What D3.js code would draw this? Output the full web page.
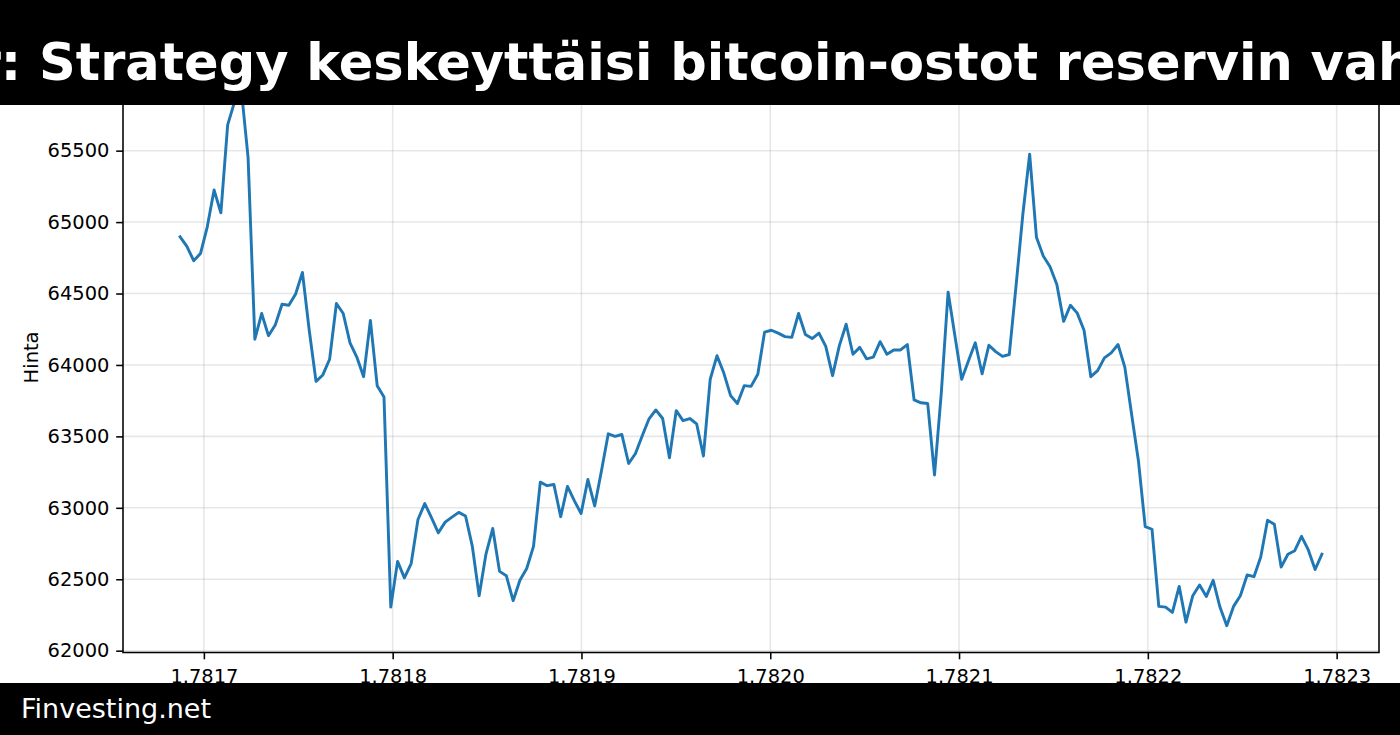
<!DOCTYPE html>
<html>
<head>
<meta charset="utf-8">
<script src="https://cdn.jsdelivr.net/npm/d3@7"></script>
<style>
  html, body { margin: 0; padding: 0; background: #fff; }
  svg { display: block; }
  text { font-family: "DejaVu Sans", sans-serif; }
</style>
</head>
<body>
<svg id="chart" width="1400" height="735"></svg>
<script>
// ---- data ----
const titleText = "Michael Saylor: Strategy keskeyttäisi bitcoin-ostot reservin vahvistamiseksi";
const footerText = "Finvesting.net";
const yLabel = "Hinta";
const startTime = 1781687400;   // unix seconds of first sample
const stepSeconds = 3600;       // hourly samples
const prices = [
  64897, 64830, 64730, 64780, 64967, 65225, 65065, 65680, 65840, 65930,
  65455, 64180, 64360, 64205, 64280, 64425, 64418, 64497, 64648, 64243,
  63885, 63930, 64040, 64430, 64360, 64155, 64055, 63918, 64312, 63855,
  63775,
  62305, 62625, 62510, 62610, 62918, 63030, 62930, 62825, 62900, 62935,
  62968, 62943, 62730, 62385, 62675, 62855, 62555, 62525, 62350, 62493,
  62575, 62730, 63180, 63155, 63163, 62938, 63150, 63050, 62960, 63198,
  63013, 63260,
  63518, 63500, 63513, 63310, 63380, 63505, 63623, 63685, 63625, 63350,
  63680, 63610, 63625, 63588, 63363, 63900, 64065, 63943, 63785, 63730,
  63855, 63850, 63935, 64230, 64243, 64223, 64198, 64193, 64360, 64213,
  64185, 64223, 64130, 63925, 64135,
  64285, 64075, 64123, 64043, 64055, 64163, 64075, 64105, 64105, 64143,
  63755, 63735, 63730, 63230, 63805, 64510, 64205, 63900, 64030, 64155,
  63938, 64138, 64093, 64060, 64073, 64555, 65055, 65475, 64893, 64763,
  64688, 64563, 64305, 64418,
  64363, 64243, 63918, 63960, 64050, 64085, 64143, 63985, 63655, 63330,
  62868, 62850, 62310, 62305, 62268, 62450, 62200, 62385, 62460, 62380,
  62493, 62305, 62175, 62310, 62385, 62530, 62518, 62655, 62913, 62885,
  62585, 62675, 62700, 62800, 62705, 62568, 62675
];
const xTickValues = [1781700000, 1781800000, 1781900000, 1782000000, 1782100000, 1782200000, 1782300000];
const yTickValues = [62000, 62500, 63000, 63500, 64000, 64500, 65000, 65500, 66000];

const series = prices.map((p, i) => ({ t: startTime + i * stepSeconds, v: p }));

// ---- layout (matplotlib figure 10x5.25 in @140dpi) ----
const W = 1400, H = 735;
const pt = 140 / 72;
const plot = { left: 123, right: 1379, top: 62.4, bottom: 652.5 };

const svg = d3.select("#chart");
svg.append("rect").attr("width", W).attr("height", H).attr("fill", "#fff");

const tExt = d3.extent(series, d => d.t);
const vExt = d3.extent(series, d => d.v);
const tPad = (tExt[1] - tExt[0]) * 0.05;
const vPad = (vExt[1] - vExt[0]) * 0.05;

const x = d3.scaleLinear().domain([tExt[0] - tPad, tExt[1] + tPad]).range([plot.left, plot.right]);
const y = d3.scaleLinear().domain([vExt[0] - vPad, vExt[1] + vPad]).range([plot.bottom, plot.top]);

// grid
const grid = svg.append("g").attr("class", "grid");
grid.selectAll("line.gx").data(xTickValues).join("line")
  .attr("x1", d => x(d)).attr("x2", d => x(d))
  .attr("y1", plot.top).attr("y2", plot.bottom)
  .attr("stroke", "#b0b0b0").attr("stroke-opacity", 0.3).attr("stroke-width", 0.8 * pt);
grid.selectAll("line.gy").data(yTickValues.filter(v => y(v) >= plot.top)).join("line")
  .attr("x1", plot.left).attr("x2", plot.right)
  .attr("y1", d => y(d)).attr("y2", d => y(d))
  .attr("stroke", "#b0b0b0").attr("stroke-opacity", 0.3).attr("stroke-width", 0.8 * pt);

// line
const line = d3.line().x(d => x(d.t)).y(d => y(d.v));
svg.append("path").datum(series)
  .attr("d", line)
  .attr("fill", "none")
  .attr("stroke", "#1f77b4")
  .attr("stroke-width", 1.5 * pt)
  .attr("stroke-linejoin", "round")
  .attr("stroke-linecap", "square");

// axes
const fontPx = 10 * pt;
const xAxis = d3.axisBottom(x).tickValues(xTickValues)
  .tickFormat(d => (d / 1e9).toFixed(4))
  .tickSize(3.5 * pt).tickPadding(3.5 * pt).tickSizeOuter(0);
const yAxis = d3.axisLeft(y).tickValues(yTickValues)
  .tickFormat(d3.format("d"))
  .tickSize(3.5 * pt).tickPadding(3.5 * pt).tickSizeOuter(0);

const gx = svg.append("g").attr("transform", `translate(0,${plot.bottom})`).call(xAxis);
const gy = svg.append("g").attr("transform", `translate(${plot.left},0)`).call(yAxis);
[gx, gy].forEach(g => {
  g.select(".domain").remove();
  g.selectAll(".tick line").attr("stroke", "#000").attr("stroke-width", 0.8 * pt);
  g.selectAll(".tick text").attr("fill", "#000")
    .style("font-family", "'DejaVu Sans', sans-serif").style("font-size", fontPx + "px");
});
gx.selectAll(".tick text").attr("dy", "0.86em");

// spines
svg.append("rect")
  .attr("x", plot.left).attr("y", plot.top)
  .attr("width", plot.right - plot.left).attr("height", plot.bottom - plot.top)
  .attr("fill", "none").attr("stroke", "#000").attr("stroke-width", 0.8 * pt);

// y label
svg.append("text")
  .attr("transform", `translate(38,${(plot.top + plot.bottom) / 2}) rotate(-90)`)
  .attr("text-anchor", "middle")
  .attr("fill", "#000")
  .style("font-size", fontPx + "px")
  .text(yLabel);

// title banner
svg.append("rect").attr("x", 0).attr("y", 0).attr("width", W).attr("height", 105).attr("fill", "#000");
const title = svg.append("text")
  .attr("x", 0).attr("y", 80)
  .attr("fill", "#fff")
  .style("font-size", "51px").style("font-weight", "bold")
  .text(titleText);
const sIdx = titleText.indexOf("Strategy");
const sPos = title.node().getStartPositionOfChar(sIdx).x;
title.attr("x", 39 - sPos);

// footer banner
svg.append("rect").attr("x", 0).attr("y", 683).attr("width", W).attr("height", H - 683).attr("fill", "#000");
svg.append("text")
  .attr("x", 21).attr("y", 718)
  .attr("fill", "#fff")
  .style("font-size", "27px")
  .text(footerText);
</script>
</body>
</html>
